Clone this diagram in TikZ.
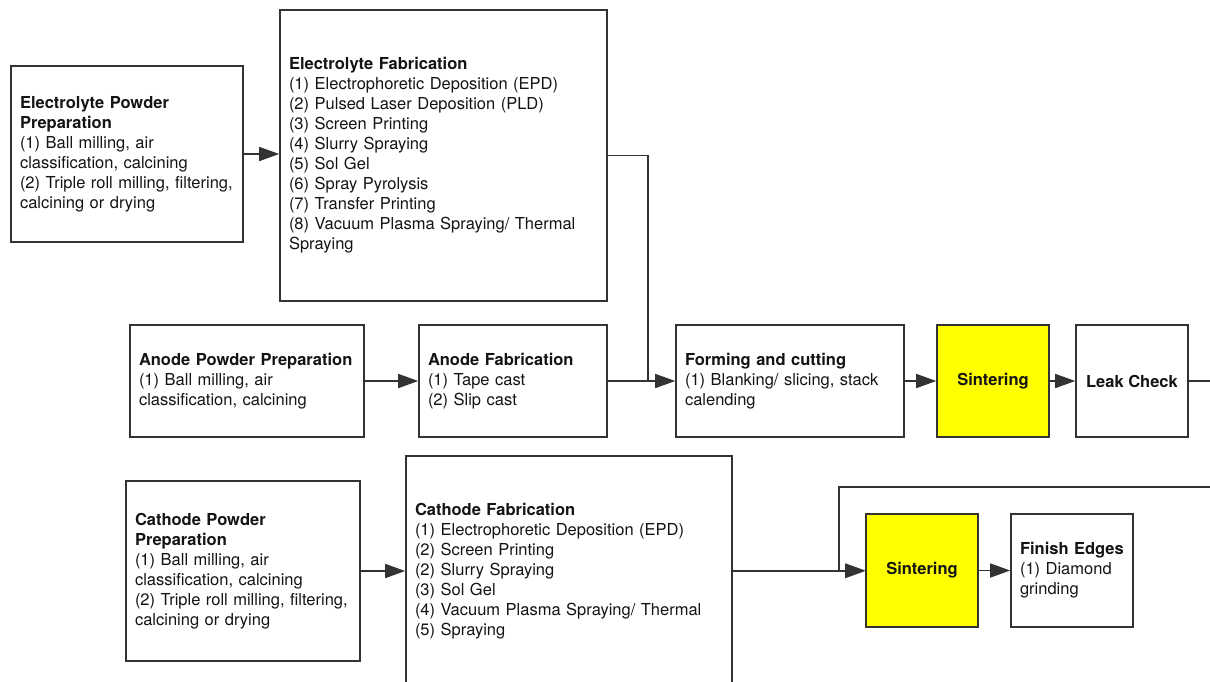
\documentclass[tikz,border=0pt]{standalone}
\usepackage{fontspec}
\setmainfont{TeX Gyre Heros}
\usetikzlibrary{arrows.meta}
\definecolor{linecol}{HTML}{333333}
\definecolor{textcol}{HTML}{141414}
\definecolor{sinter}{HTML}{FFFF00}
\newcommand\bodyfont{\fontsize{16.5}{20}\selectfont}
\newcommand\txtlines[1]{\begin{tabular}{@{}l@{}}#1\end{tabular}}
\begin{document}
\begin{tikzpicture}[x=1pt,y=-1pt,
  box/.style={draw=linecol, line width=1.6pt, rectangle, inner xsep=9pt, inner ysep=0pt,
    align=left, font=\bodyfont, text=textcol},
  cbox/.style={draw=linecol, line width=1.6pt, rectangle, inner sep=0pt,
    align=center, font=\bodyfont\bfseries, text=textcol},
  conn/.style={draw=linecol, line width=1.6pt},
  arr/.style={conn, -{Triangle[length=20pt,width=14pt]}}]
\useasboundingbox (0,0) rectangle (1210,681);
\clip (0,0) rectangle (1210,681);
\fill[white] (0,0) rectangle (1210,681);

\node[box, minimum width=232pt, minimum height=176pt, text width=214pt] (epp) at (127,154)
  {\txtlines{\textbf{Electrolyte Powder}\\\textbf{Preparation}\\(1) Ball milling, air\\classification, calcining\\(2) Triple roll milling, filtering,\\calcining or drying}};
\node[box, minimum width=327pt, minimum height=291pt, text width=309pt] (ef) at (443.5,155.5)
  {\txtlines{\textbf{Electrolyte Fabrication}\\(1) Electrophoretic Deposition (EPD)\\(2) Pulsed Laser Deposition (PLD)\\(3) Screen Printing\\(4) Slurry Spraying\\(5) Sol Gel\\(6) Spray Pyrolysis\\(7) Transfer Printing\\(8) Vacuum Plasma Spraying/ Thermal\\Spraying}};
\node[box, minimum width=234pt, minimum height=112pt, text width=216pt] (app) at (247,381)
  {\txtlines{\textbf{Anode Powder Preparation}\\(1) Ball milling, air\\classification, calcining}};
\node[box, minimum width=188pt, minimum height=112pt, text width=170pt] (af) at (513,381)
  {\txtlines{\textbf{Anode Fabrication}\\(1) Tape cast\\(2) Slip cast}};
\node[box, minimum width=228pt, minimum height=112pt, text width=210pt] (fc) at (790,381)
  {\txtlines{\textbf{Forming and cutting}\\(1) Blanking/ slicing, stack\\calending}};
\node[cbox, fill=sinter, minimum width=112pt, minimum height=112pt] (s1) at (993,381) {Sintering};
\node[cbox, minimum width=112pt, minimum height=112pt] (lc) at (1132,381) {Leak Check};
\node[box, minimum width=234pt, minimum height=180pt, text width=216pt] (cpp) at (243,571)
  {\txtlines{\textbf{Cathode Powder}\\\textbf{Preparation}\\(1) Ball milling, air\\classification, calcining\\(2) Triple roll milling, filtering,\\calcining or drying}};
\node[box, minimum width=326pt, minimum height=230pt, text width=308pt] (cf) at (569,571)
  {\txtlines{\textbf{Cathode Fabrication}\\(1) Electrophoretic Deposition (EPD)\\(2) Screen Printing\\(2) Slurry Spraying\\(3) Sol Gel\\(4) Vacuum Plasma Spraying/ Thermal\\(5) Spraying}};
\node[cbox, fill=sinter, minimum width=112pt, minimum height=113pt] (s2) at (922,570.5) {Sintering};
\node[box, minimum width=122pt, minimum height=113pt, text width=104pt] (fe) at (1072,570.5)
  {\txtlines{\textbf{Finish Edges}\\(1) Diamond\\grinding}};

\coordinate (j1) at (648,381);
\coordinate (r1) at (1216,487);
\coordinate (r2) at (839,487);

\draw[arr] (epp.east) -- (epp.east -| ef.west);
\draw[conn] (ef.east) -| (j1);
\draw[arr] (app.east) -- (af.west);
\draw[arr] (af.east) -- (fc.west);
\draw[arr] (fc.east) -- (s1.west);
\draw[arr] (s1.east) -- (lc.west);
\draw[arr] (lc.east) -| (r1) -- (r2) |- (s2.west);
\draw[arr] (cpp.east) -- (cpp.east -| cf.west);
\draw[arr] (cf.east) -- (cf.east -| s2.west);
\draw[arr] (s2.east) -- (fe.west);
\end{tikzpicture}
\end{document}
